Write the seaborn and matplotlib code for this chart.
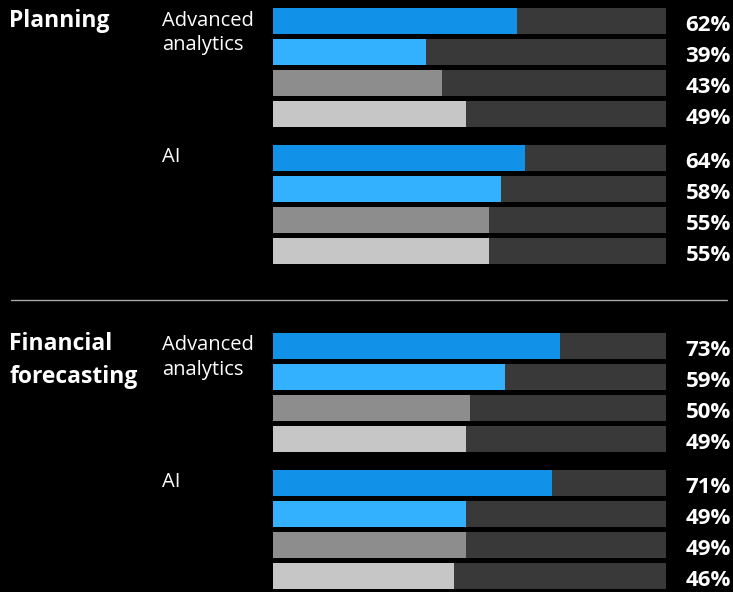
import pandas as pd
import seaborn as sns
from matplotlib import pyplot as plt
from matplotlib import transforms

# chart data
sections = ["Planning", "Financial\nforecasting"]
groups = ["Advanced\nanalytics", "AI"]
series = ["s1", "s2", "s3", "s4"]
planning_advanced = [62, 39, 43, 49]
planning_ai = [64, 58, 55, 55]
forecasting_advanced = [73, 59, 50, 49]
forecasting_ai = [71, 49, 49, 46]

colors = ["#1192e8", "#33b1ff", "#8d8d8d", "#c6c6c6"]
track_color = "#393939"

# layout, in pixels
W, H = 733, 592
first_row = 21
row_step = 31
group_step = 137
section_step = 325
bar_h = 26

values = [[planning_advanced, planning_ai], [forecasting_advanced, forecasting_ai]]
rows = []
for s, sec in enumerate(sections):
    for g, grp in enumerate(groups):
        for r, v in enumerate(values[s][g]):
            rows.append({
                "section": sec, "group": grp, "series": series[r], "value": v,
                "ypos": first_row + s * section_step + g * group_step + r * row_step,
            })
df = pd.DataFrame(rows)
df["full"] = 100

sns.set_theme(style="white")
plt.rcParams["font.family"] = ["Open Sans", "DejaVu Sans"]

fig = plt.figure(figsize=(W / 100, H / 100), dpi=100, facecolor="black")
ax = fig.add_axes([273 / W, 0, (666 - 273) / W, 1])
ax.set_facecolor("black")

width = bar_h / row_step
sns.barplot(data=df, x="full", y="ypos", orient="h", native_scale=True,
            color=track_color, saturation=1, width=width, errorbar=None,
            linewidth=0, ax=ax)
sns.barplot(data=df, x="value", y="ypos", hue="series", palette=colors,
            orient="h", native_scale=True, dodge=False, saturation=1,
            width=width, errorbar=None, linewidth=0, legend=False, ax=ax)
ax.set_xlim(0, 100)
ax.set_ylim(H, 0)
ax.axis("off")

# x in figure fraction, y in pixel rows
fx = transforms.blended_transform_factory(fig.transFigure, ax.transData)

for _, row in df.iterrows():
    ax.text(731 / W, row["ypos"] + 10, f"{row['value']}%", transform=fx,
            ha="right", va="baseline", color="white", fontsize=16,
            fontweight="bold")

# va="baseline" sits on the last line, so push multi-line labels down
for s, sec in enumerate(sections):
    top = first_row - bar_h / 2 + s * section_step
    ax.text(9 / W, top + 19 + 31 * sec.count("\n"), sec, transform=fx,
            ha="left", va="baseline", color="white", fontsize=16.5,
            fontweight="bold", linespacing=1.49)
    for g, grp in enumerate(groups):
        ax.text(162 / W, top + 17 + g * group_step + 25 * grp.count("\n"),
                grp, transform=fx, ha="left", va="baseline", color="white",
                fontsize=14.5, linespacing=1.3)

ax.plot([11 / W, 727 / W], [300, 300], transform=fx, clip_on=False,
        color="#a8a8a8", lw=1)

fig.savefig("out.png", dpi=100, facecolor="black")
